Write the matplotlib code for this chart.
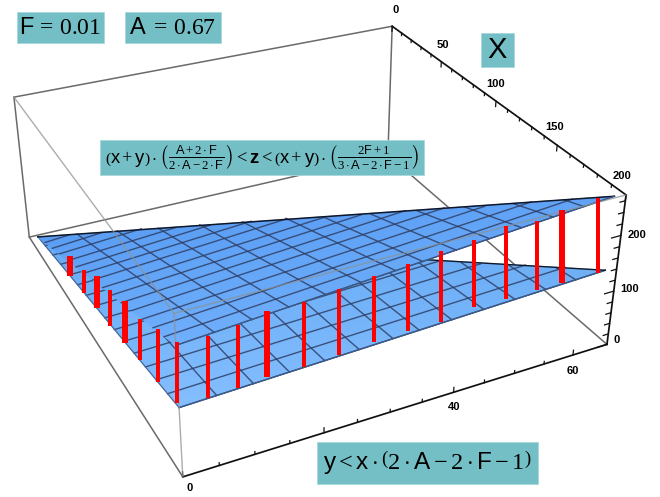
import numpy as np
import matplotlib
matplotlib.use('Agg')
import matplotlib.pyplot as plt
from matplotlib.colors import LinearSegmentedColormap
from matplotlib.patches import Rectangle
from matplotlib.tri import Triangulation

plt.rcParams['font.family'] = ['Liberation Sans', 'DejaVu Sans']
plt.rcParams['mathtext.fontset'] = 'custom'
plt.rcParams['mathtext.rm'] = 'Liberation Serif'
plt.rcParams['mathtext.sf'] = 'Liberation Sans'
plt.rcParams['mathtext.bf'] = 'Liberation Sans:bold'
plt.rcParams['mathtext.it'] = 'Liberation Serif:italic'

#################################
# Data
y_max = 66.
z_max = 270.

x_ticks = [0, 50, 100, 150, 200]
y_ticks = [0, 40, 60]  # the 20 sits under the formula box
z_ticks = [0, 100, 200]

# sheets, corners as (x, y)
apex_x, apex_z = 17, 33
corner_y = 64
upper_front_z, upper_corner_z = 220, 273
lower_front_z, lower_corner_z = 119, 144

# mesh lines of constant x, from the y=0 edge to the far edge
mesh_x = [29, 41, 53, 66, 78, 90, 102, 115, 127, 139, 151, 164, 176, 188, 200]
mesh_x_back_y = [4, 8, 13, 17, 21, 26, 30, 34, 38, 43, 47, 51, 56, 60, 64]
upper_x_front = [45, 57, 70, 83, 95, 108, 120, 133, 145, 157, 169, 183, 195, 207, 220]
upper_x_back = [49, 65, 81, 97, 113, 129, 145, 161, 177, 193, 209, 225, 241, 257, 273]
lower_x_front = [39, 44, 50, 56, 62, 67, 73, 79, 84, 90, 96, 102, 108, 113, 119]
lower_x_back = [40, 48, 55, 63, 70, 78, 85, 92, 100, 107, 114, 122, 129, 137, 144]

# mesh lines of constant y, from the far edge to x=200
mesh_y = [5, 10, 15, 20, 25, 30, 34, 39, 44, 49, 54, 59, 64]
mesh_y_back_x = [31, 45, 59, 73, 87, 101, 116, 130, 144, 158, 172, 186, 200]
upper_y_back = [51, 70, 88, 107, 125, 144, 162, 181, 199, 218, 236, 255, 273]
lower_y_back = [42, 50, 59, 67, 76, 84, 93, 101, 110, 118, 127, 135, 144]
upper_y_end = [224, 228, 232, 237, 241, 245, 248, 252, 257, 261, 265, 269, 273]
lower_y_end = [121, 123, 125, 127, 129, 131, 132, 134, 136, 138, 140, 142, 144]

# red bars on the y=0 edge
edge_bar_x = [68, 88, 106, 123, 142, 160, 180, 200]
edge_bar_top = [95, 110, 135, 146, 167, 175, 202, 226]
edge_bar_bot = [58, 67, 77, 82, 93, 104, 113, 126]
# red bars on the x=200 edge
front_bar_y = [4, 8, 12, 17, 22, 27, 32, 37, 42, 47, 52, 56, 62]
front_bar_top = [221, 226, 235, 234, 240, 246, 250, 256, 260, 269, 263, 272, 276]
front_bar_bot = [121, 122, 127, 126, 130, 135, 138, 137, 146, 145, 145, 146, 145]
#################################


#################################
# Perspective of the box: box corners against where they sit in the image
box_ref = [(0, 0, z_max, 14, 97), (200, 0, z_max, 173, 314), (0, y_max, z_max, 393, 24),
           (200, y_max, z_max, 625, 195), (0, 0, 0, 30, 238), (200, 0, 0, 181, 476),
           (0, y_max, 0, 385, 155), (200, y_max, 0, 605, 347), (50, y_max, z_max, 444, 63),
           (100, y_max, z_max, 496, 102), (150, y_max, z_max, 555, 145),
           (200, 40, 0, 457, 390), (200, 60, 0, 576, 354)]
rows = []
for x, y, z, u, v in box_ref:
    rows.append([x, y, z, 1, 0, 0, 0, 0, -u*x, -u*y, -u*z, -u])
    rows.append([0, 0, 0, 0, x, y, z, 1, -v*x, -v*y, -v*z, -v])
P = np.linalg.svd(np.array(rows, dtype=float))[2][-1].reshape(3, 4)


def proj(x, y, z):
    q = P @ np.array([x, y, z, 1.])
    return q[0]/q[2], q[1]/q[2]


def line3(a, b, **kw):
    pa, pb = proj(*a), proj(*b)
    ax.plot([pa[0], pb[0]], [pa[1], pb[1]], **kw)


def bar3(a, b, width):
    # the bars stand upright on the page, not along the box verticals
    pa, pb = proj(*a), proj(*b)
    mid = (pa[0] + pb[0])/2
    ax.plot([mid, mid], [pa[1], pb[1]], color='#ff0000', lw=width*0.72,
            solid_capstyle='butt', zorder=7)
#################################


#################################
# Make figure
fig = plt.figure(figsize=[6.6, 4.97], dpi=100)
ax = fig.add_axes([0, 0, 1, 1])
ax.set_xlim(0, 660)
ax.set_ylim(497, 0)
ax.axis('off')

grey = dict(color='#6a6a6a', lw=1.1, zorder=1, solid_capstyle='round')
front = dict(color='#8a9296', lw=1.0, alpha=0.75, zorder=6)
black = dict(color='#111111', lw=1.25, zorder=1)

# back of the box
line3((0, 0, z_max), (0, y_max, z_max), **grey)
line3((0, y_max, z_max), (0, y_max, 0), **grey)
line3((0, 0, z_max), (0, 0, 0), **grey)
line3((0, 0, 0), (0, y_max, 0), **grey)
line3((0, y_max, 0), (200, y_max, 0), **grey)
line3((0, 0, 0), (200, 0, 0), **grey)

# axes
line3((0, y_max, z_max), (200, y_max, z_max), **black)
line3((200, 0, 0), (200, y_max, 0), **black)
line3((200, y_max, 0), (200, y_max, z_max), **black)
for t in range(0, 201, 10):
    line3((t, y_max, z_max), (t, y_max, z_max - (10 if t % 50 == 0 else 5)), color='#111111', lw=0.9, zorder=1)
for t in range(0, 61, 5):
    line3((200, t, 0), (200, t, 9 if t % 20 == 0 else 5), color='#111111', lw=0.9, zorder=1)
for t in range(0, 261, 20):
    line3((200, y_max, t), (200, y_max - (1.6 if t % 100 == 0 else 0.9), t), color='#111111', lw=0.9, zorder=1)

# tick labels
lab = dict(fontsize=8, ha='center', va='center', zorder=2, color='#000000', fontweight='bold', fontstretch='condensed')
for t in x_ticks:
    px, py = proj(t, y_max, z_max)
    ax.text(px + 3 - 0.035*t, py - 16 - 0.015*t, str(t), **lab)
y_dx, y_dy = [7, 1, 0], [11, 15, 16]
for i, t in enumerate(y_ticks):
    px, py = proj(200, t, 0)
    ax.text(px + y_dx[i], py + y_dy[i], str(t), **lab)
z_dx, z_dy = [10, 16, 16], [-4, -2, 0]
for i, t in enumerate(z_ticks):
    px, py = proj(200, y_max, t)
    ax.text(px + z_dx[i], py + z_dy[i], str(t), **lab)


def sheet(z_front, z_corner, colors, zo):
    pts = [proj(apex_x, 0, apex_z), proj(200, 0, z_front), proj(200, corner_y, z_corner)]
    tri = Triangulation([p[0] for p in pts], [p[1] for p in pts], [[0, 1, 2]])
    cmap = LinearSegmentedColormap.from_list('sheet', colors)
    ax.tripcolor(tri, [0., 1., 0.3], shading='gouraud', cmap=cmap, vmin=0, vmax=1, zorder=zo)
    ax.set_xlim(0, 660)
    ax.set_ylim(497, 0)


def mesh(x_front, x_back, y_back, y_end, zo):
    mesh_kw = dict(color='#2f3f66', lw=1.0, alpha=0.85, zorder=zo)
    for i in range(len(mesh_x)):
        line3((mesh_x[i], 0, x_front[i]), (mesh_x[i], mesh_x_back_y[i], x_back[i]), **mesh_kw)
    for i in range(len(mesh_y)):
        line3((mesh_y_back_x[i], mesh_y[i], y_back[i]), (200, mesh_y[i], y_end[i]), **mesh_kw)


# lower sheet, then upper sheet over it
sheet(lower_front_z, lower_corner_z, ['#66aaf4', '#84beff'], 2)
mesh(lower_x_front, lower_x_back, lower_y_back, lower_y_end, 3)
sheet(upper_front_z, upper_corner_z, ['#5a9ef4', '#70affb'], 4)
mesh(upper_x_front, upper_x_back, upper_y_back, upper_y_end, 5)

# sheet outlines
line3((apex_x, 0, apex_z), (200, corner_y, upper_corner_z), color='#101828', lw=1.1, zorder=5)
line3((apex_x, 0, apex_z), (200, 0, lower_front_z), color='#4a6a9a', lw=0.9, zorder=3)
line3((200, 0, lower_front_z), (200, corner_y, lower_corner_z), color='#3c5a88', lw=1.0, zorder=3)
line3((apex_x, 0, apex_z), (200, corner_y, lower_corner_z), color='#101828', lw=1.0, zorder=3)
line3((200, 0, upper_front_z), (200, corner_y, upper_corner_z), color='#3c5a88', lw=0.8, zorder=5)

# front of the box, seen over the surface
line3((0, 0, z_max), (200, 0, z_max), **front)
line3((200, 0, z_max), (200, y_max, z_max), **front)
line3((200, 0, z_max), (200, 0, 0), **front)

# red bars
edge_w = [6, 4, 6, 4, 6, 4, 4, 4]
for i in range(len(edge_bar_x)):
    bar3((edge_bar_x[i], 0, edge_bar_bot[i]), (edge_bar_x[i], 0, edge_bar_top[i]), edge_w[i])
front_w = [4, 4, 6, 4, 4, 4, 4, 4, 4, 4, 4, 6, 4]
for i in range(len(front_bar_y)):
    bar3((200, front_bar_y[i], front_bar_bot[i]), (200, front_bar_y[i], front_bar_top[i]), front_w[i])

# labels in boxes
box_c = '#74bfc5'
for x0, y0, x1, y1 in [(17, 12, 104, 43), (125, 12, 221, 43), (481, 33, 514, 67),
                       (100, 140, 424, 175), (317, 442, 538, 484)]:
    ax.add_patch(Rectangle((x0, y0), x1-x0, y1-y0, fc=box_c, ec='#a8d8dc', lw=0.6, zorder=8))

ax.text(60.5, 28, r'$\mathsf{F}\,=\,0.01$', fontsize=17, ha='center', va='center', zorder=9)
ax.text(173, 28, r'$\mathsf{A}\ =\,0.67$', fontsize=17, ha='center', va='center', zorder=9)
ax.text(497.5, 50, 'X', fontsize=21, ha='center', va='center', zorder=9)
ax.text(262, 157.5, r'$\left(\mathsf{x}+\mathsf{y}\right)\cdot\left(\frac{\mathsf{A}+2\cdot\mathsf{F}}'
        r'{2\cdot\mathsf{A}-2\cdot\mathsf{F}}\right)<\mathbf{z}<\left(\mathsf{x}+\mathsf{y}\right)\cdot'
        r'\left(\frac{2\mathsf{F}+1}{3\cdot\mathsf{A}-2\cdot\mathsf{F}-1}\right)$',
        fontsize=13.2, ha='center', va='center', zorder=9)
ax.text(427.5, 462, r'$\mathsf{y}<\mathsf{x}\cdot\left(2\cdot\mathsf{A}-2\cdot\mathsf{F}-1\right)$',
        fontsize=17.5, ha='center', va='center', zorder=9)

fig.savefig('out.png', dpi=100)
#################################
